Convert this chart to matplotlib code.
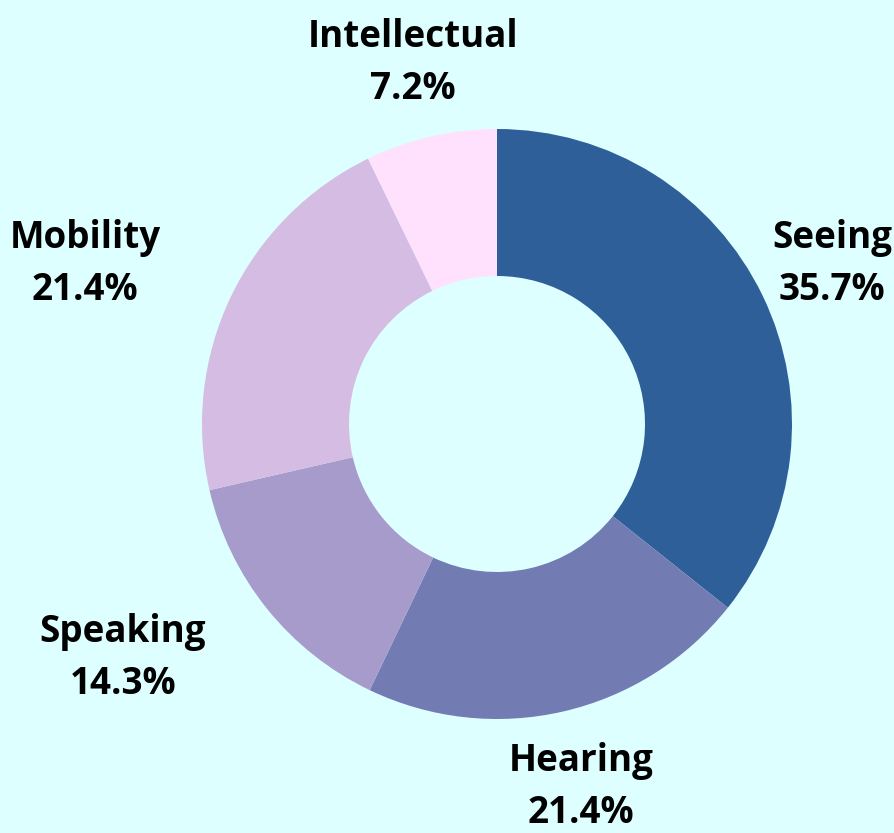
import matplotlib.pyplot as plt

labels = ["Seeing", "Hearing", "Speaking", "Mobility", "Intellectual"]
shares = [35.7, 21.4, 14.3, 21.4, 7.2]
colors = ["#2E5F98", "#737CB2", "#A69BCB", "#D5BCE3", "#FFE1FE"]
# label centres in pixel coords (x, y from top)
label_pos = [(832, 264), (581, 787), (123, 658), (85, 264), (413, 63)]

BG = "#DDFFFF"

fig = plt.figure(figsize=(8.95, 8.33), dpi=100, facecolor=BG)
ax = fig.add_axes([0, 0, 1, 1])
ax.set_facecolor(BG)

ax.pie(shares, colors=colors, startangle=90, counterclock=False,
       center=(497, 833 - 424), radius=295,
       wedgeprops=dict(width=147, linewidth=0), frame=True)
ax.set_xlim(0, 895)
ax.set_ylim(0, 833)
ax.axis("off")

for name, val, (px, py) in zip(labels, shares, label_pos):
    ax.text(px, 833 - py, f"{name}\n{val:.1f}%", ha="center", va="center",
            fontsize=26.5, fontweight="bold", family="Open Sans",
            linespacing=1.5, color="black")

fig.savefig("out.png", dpi=100, facecolor=BG)
